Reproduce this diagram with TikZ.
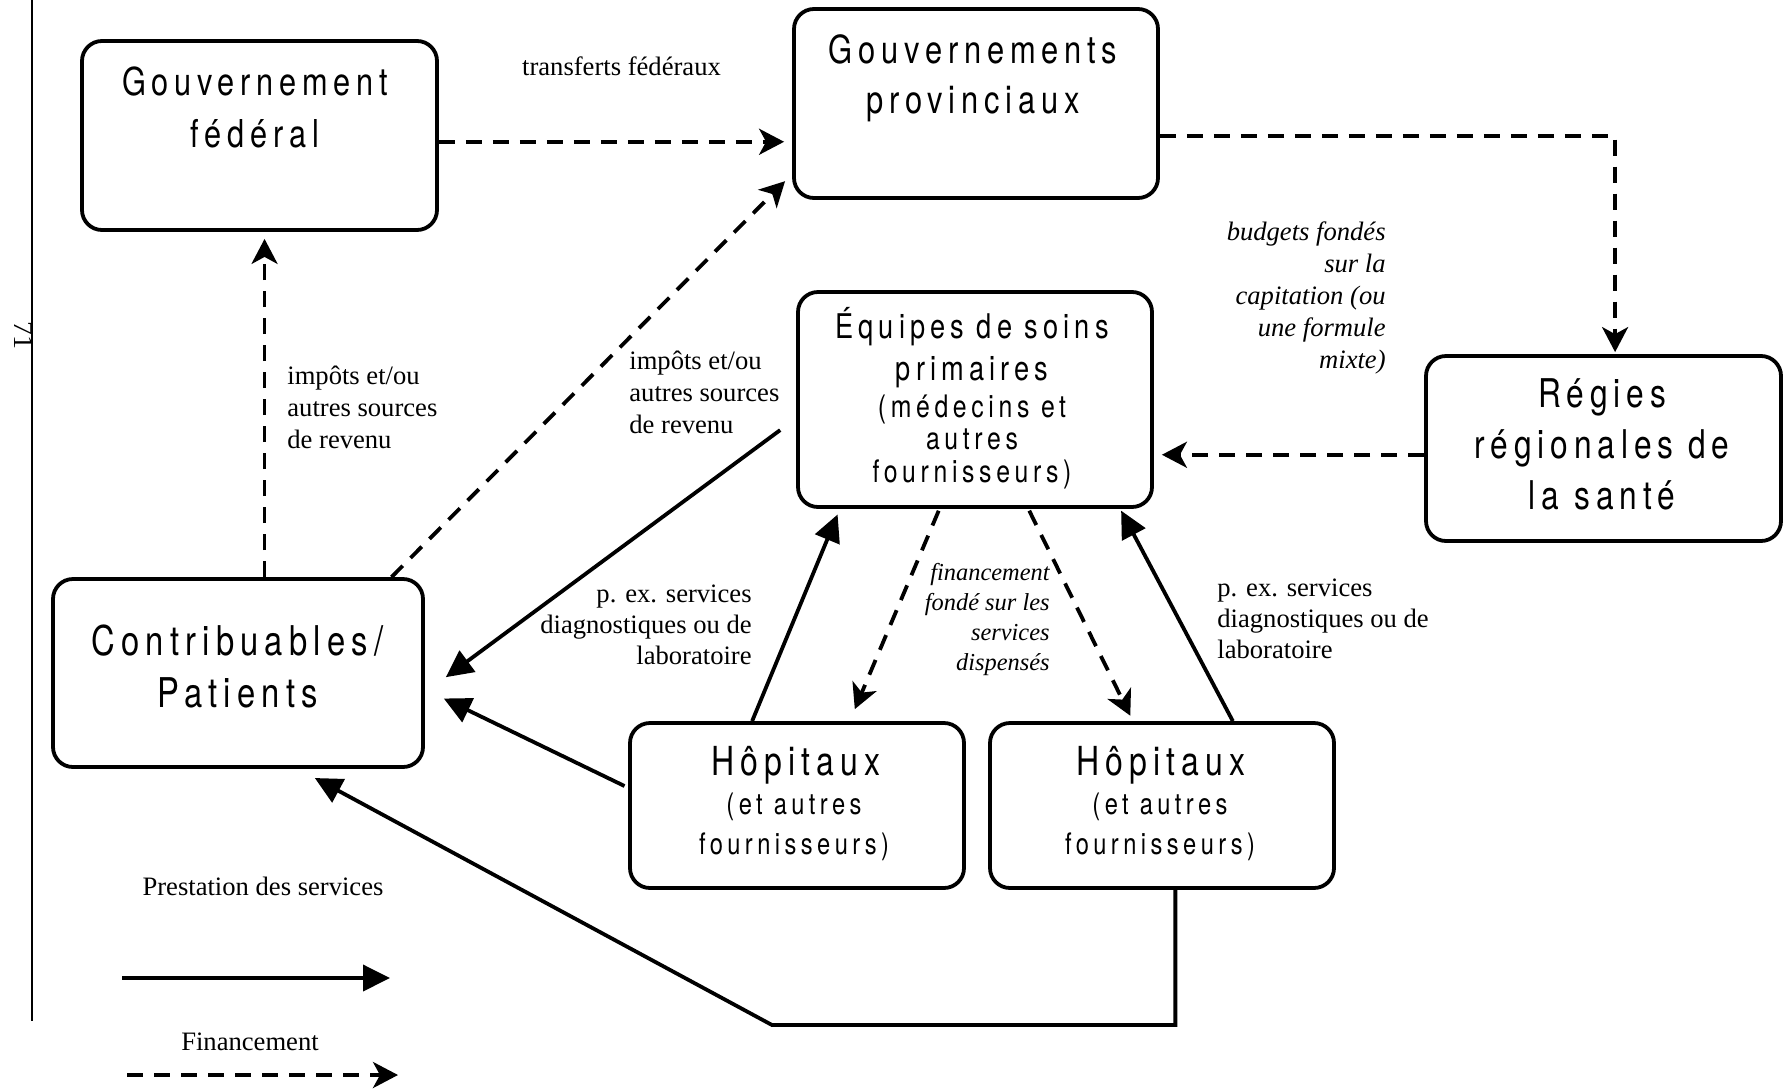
\documentclass[tikz,border=0pt]{standalone}
\usepackage{fontspec}
\setmainfont{Liberation Serif}
\newfontfamily\boxfont[FakeStretch=0.8,LetterSpace=15]{TeX Gyre Heros}
\usetikzlibrary{arrows.meta}

\tikzset{
  org/.style={draw, line width=1.9pt, rounded corners=10pt, inner sep=0pt},
  inbox/.style 2 args={font=\boxfont\fontsize{#1}{#2}\selectfont, align=center, inner sep=0pt},
  note/.style={font=\fontsize{13.3}{16}\selectfont, inner sep=0pt},
  serv/.style={line width=1.9pt, -{Triangle[length=13.5pt,width=13pt]}},
  fin/.style={line width=1.9pt, dash pattern=on 8pt off 5.5pt, -{Stealth[length=12.5pt,width=13pt,inset=3.5pt]}}
}

\begin{document}
\begin{tikzpicture}[x=0.5pt, y=-0.5pt]
\useasboundingbox (0,0) rectangle (1783,1088);

\draw[line width=1pt] (32,0) -- (32,1021);
\node[font=\fontsize{14}{14}\selectfont, rotate=-90, inner sep=0pt] (pagenum) at (24,335) {71};

% boxes
\node[org, minimum width=177.5pt, minimum height=94.5pt] (fed) at (259.5,135.5) {};
\node[org, minimum width=182pt, minimum height=94.5pt] (prov) at (976,103.5) {};
\node[org, minimum width=177pt, minimum height=107.5pt] (equipes) at (975,399.5) {};
\node[org, minimum width=177.5pt, minimum height=92.5pt] (regies) at (1603.5,448.5) {};
\node[org, minimum width=185pt, minimum height=94pt] (contrib) at (238,673) {};
\node[org, minimum width=167pt, minimum height=82.5pt] (hop1) at (797,805.5) {};
\node[org, minimum width=172pt, minimum height=82.5pt] (hop2) at (1162,805.5) {};

\node[inbox={19.2}{26}] (fedtxt) at (255,107.1) {Gouvernement\\fédéral};
\node[inbox={19.3}{25}] (provtxt) at (973,77.8) {Gouvernements\\provinciaux};
\node[inbox={17}{21}] (eqtxt) at (972,347.3) {Équipes de soins\\primaires};
\node[inbox={15.5}{16.25}] (eqsub) at (972,441.5) {(médecins et\\autres\\fournisseurs)};
\node[inbox={19.8}{25.5}] (regtxt) at (1602,444.4) {Régies\\régionales de\\la santé};
\node[inbox={20.5}{26}] (contxt) at (237.5,666.8) {Contribuables/\\Patients};
\node[inbox={20}{20}, anchor=base] (h1txt) at (796,775) {Hôpitaux};
\node[inbox={14.8}{20}] (h1sub) at (794,827.3) {(et autres\\fournisseurs)};
\node[inbox={20}{20}, anchor=base] (h2txt) at (1161,775) {Hôpitaux};
\node[inbox={14.8}{20}] (h2sub) at (1160,827.3) {(et autres\\fournisseurs)};

% labels
\node[note, anchor=base] (transf) at (621.5,75) {transferts fédéraux};
\node[note, anchor=west, align=left] (imp1) at (287,407.7) {impôts et/ou\\autres sources\\de revenu};
\node[note, anchor=west, align=left] (imp2) at (629,392.7) {impôts et/ou\\autres sources\\de revenu};
\node[note, anchor=east, align=right, font=\itshape\fontsize{13.3}{16}\selectfont] (budg) at (1386,297.8) {budgets fondés\\sur la\\capitation (ou\\une formule\\mixte)};
\node[note, anchor=east, align=right, font=\fontsize{13.3}{15.5}\selectfont] (pex1) at (752,624.8) {p. ex. services\\diagnostiques ou de\\laboratoire};
\node[note, anchor=east, align=right, font=\itshape\fontsize{12.2}{15}\selectfont] (finl) at (1050,619.4) {financement\\fondé sur les\\services\\dispensés};
\node[note, anchor=west, align=left, font=\fontsize{13.3}{15.5}\selectfont] (pex2) at (1217,618.8) {p. ex. services\\diagnostiques ou de\\laboratoire};

% funding
\draw[fin, shorten >=4pt] (fed.-2) -- (fed.-2 -| prov.west);
\draw[fin, shorten >=3.5pt] (fed.-87.3 |- contrib.north) -- (fed.-87.3);
\draw[fin, shorten >=5pt] (contrib.32) -- (prov.201);
\draw[fin, shorten >=1pt] (prov.-10.7) -| (regies.83.5);
\draw[fin, shorten >=4pt] (regies.182.6) -- (regies.182.6 -| equipes.east);
\draw[fin, shorten <=1pt, shorten >=6.5pt] (equipes.252.4) -- (hop1.58.4);
\draw[fin, shorten <=1pt, shorten >=3pt] (equipes.-64.4) -- (hop2.109.4);

% services
\draw[serv, shorten <=9.9pt, shorten >=13pt] (equipes.186.7) -- (contrib.-6.9);
\draw[serv, shorten <=2pt, shorten >=10.5pt] (hop1.174.6) -- (contrib.-5.9);
\draw[serv, shorten >=3pt] (hop1.118.1) -- (equipes.219.6);
\draw[serv, shorten >=1pt] (hop2.50.1) -- (equipes.-37.7);
\coordinate (detour) at (772,1025);
\draw[serv, shorten >=9.6pt] (hop2.-81) |- (detour) -- (contrib.-58.8);

% legend
\node[note, anchor=base] (legserv) at (263,895) {Prestation des services};
\coordinate (s0) at (122,978);
\coordinate (s1) at (390,978);
\draw[serv] (s0) -- (s1);
\node[note, anchor=base] (legfin) at (250,1050) {Financement};
\coordinate (f0) at (127,1075);
\coordinate (f1) at (398,1075);
\draw[fin] (f0) -- (f1);
\end{tikzpicture}
\end{document}
